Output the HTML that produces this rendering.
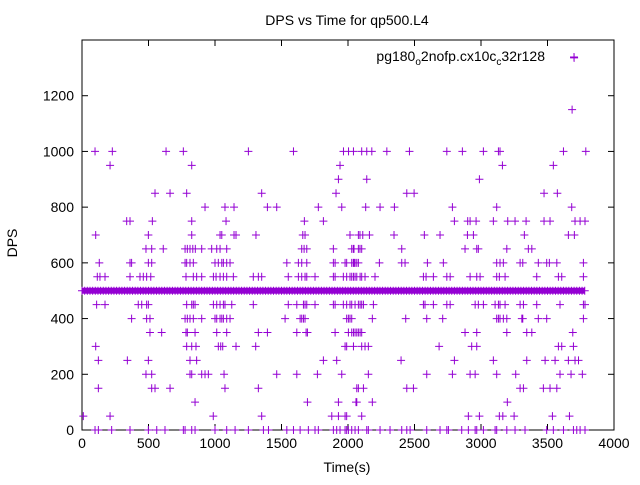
<!DOCTYPE html>
<html><head><meta charset="utf-8"><style>
body{margin:0;background:#fff;}
svg text{font-family:"Liberation Sans",sans-serif;fill:#000;}
</style></head><body>
<svg id="chart" width="640" height="480" xmlns="http://www.w3.org/2000/svg">
<rect width="640" height="480" fill="#fff"/>
<text x="347" y="25" font-size="14" text-anchor="middle">DPS vs Time for qp500.L4</text>
<text transform="translate(17,243) rotate(-90)" font-size="14" text-anchor="middle">DPS</text>
<text x="347" y="472" font-size="14" text-anchor="middle">Time(s)</text>
<g id="axes"></g>
<g id="marks"></g>
<g>
<text x="545" y="61" font-size="14" text-anchor="end">pg180<tspan font-size="10" dy="4">o</tspan><tspan dy="-4">2nofp.cx10c</tspan><tspan font-size="10" dy="4">c</tspan><tspan dy="-4">32r128</tspan></text>
<g stroke="#9400d3" stroke-width="1"><line x1="570" y1="57" x2="578" y2="57"/><line x1="574" y1="53" x2="574" y2="61"/></g>
</g>
</svg>
<script>
const xTicks=[0,500,1000,1500,2000,2500,3000,3500,4000];
const yTicks=[0,200,400,600,800,1000,1200];
const levels=[1336,1150,1000,950,900,850,800,750,700,650,600,550,450,400,350,300,250,200,150,100,50,0];
const times1336=[3700];
const times1150=[3685];
const times1000=[98,228,632,762,1251,1590,1966,2004,2041,2103,2141,2179,2292,2462,2743,2860,3018,3131,3143,3620,3788];
const times950=[211,825,1940,3161,3544];
const times900=[1928,2141,2988];
const times850=[549,662,787,1351,1910,2442,2497,3474,3574];
const times800=[925,1075,1143,1394,1464,1777,1953,2133,2241,2349,2785,3118,3682];
const times750=[336,361,529,825,1083,1672,1815,2800,2900,2918,2963,3093,3201,3256,3339,3474,3519,3707,3745,3782];
const times700=[103,499,825,1038,1051,1143,1158,1308,1660,1677,2015,2078,2090,2111,2161,2346,2574,2692,2898,2943,3326,3657,3702];
const times650=[481,524,611,775,792,812,833,852,900,975,1013,1038,1088,1652,1670,1690,1890,2040,2078,2028,2045,2090,2103,2404,2880,2968,2980,3194,3356,3382];
const times600=[130,361,373,499,524,775,787,812,837,1000,1025,1051,1063,1088,1113,1540,1627,1652,1690,1890,1903,1990,2028,2045,2066,1978,2040,2053,2078,2236,2404,2429,2597,2717,3118,3143,3168,3294,3314,3431,3494,3514,3570,3770];
const times550=[115,135,173,361,436,461,486,517,782,837,862,900,988,1008,1038,1063,1088,1138,1288,1326,1351,1551,1627,1652,1677,1690,1752,1890,1903,1990,2015,2041,2066,2091,1965,2028,2053,2103,2128,2203,2567,2587,2642,2743,2768,2918,2968,2993,3118,3138,3181,3419,3582,3607,3770];
const times450=[110,173,423,449,486,499,787,825,837,850,988,1013,1038,1063,1075,1126,1288,1551,1615,1665,1677,1690,1752,1890,1903,1990,2028,2053,2078,1965,2015,2091,2103,2116,2191,2567,2579,2642,2743,2768,2956,2980,3018,3106,3131,3143,3181,3294,3319,3419,3594,3770,3782];
const times400=[373,486,511,775,792,812,837,900,1000,1013,1038,1051,1063,1088,1113,1527,1640,1652,1665,1677,1990,2015,2028,2003,2183,2434,2592,2712,3118,3131,3143,3168,3194,3307,3314,3431,3494,3770];
const times350=[511,599,782,792,850,1013,1088,1326,1394,1615,1685,1695,1903,2003,2041,2066,2028,2053,2078,2091,2103,2880,2968,3194,3344,3382,3690];
const times300=[103,787,825,857,1025,1043,1058,1158,1306,1990,2041,1978,2103,2128,2153,2685,2930,2968,3582,3607,3695];
const times250=[123,341,499,812,862,1815,1915,2399,2800,3093,3344,3482,3557,3657,3707,3733];
const times200=[481,524,812,825,900,925,950,1068,1464,1615,1770,1953,2153,2592,2785,2918,2956,3118,3261,3594,3677,3762];
const times150=[123,524,549,662,1075,1326,2078,2066,2116,2442,2492,3294,3319,3469,3519,3570];
const times100=[850,1695,1928,2066,2060,2183,3198];
const times50=[10,211,987,1351,1878,1928,1990,1978,2103,2905,2988,3138,3164,3249,3537,3665];
const times0=[98,123,223,361,499,562,624,762,775,825,850,1000,1088,1151,1251,1364,1402,1540,1590,1640,1702,1752,1777,1890,1915,1940,1978,2003,2028,2053,1990,2078,2141,2153,2241,2316,2404,2442,2467,2592,2692,2743,2755,2855,2905,2956,2968,3018,3106,3118,3194,3256,3331,3494,3544,3620,3695,3720,3745,3782];
const timesByLevel=[times1336,times1150,times1000,times950,times900,times850,times800,times750,times700,times650,times600,times550,times450,times400,times350,times300,times250,times200,times150,times100,times50,times0];
const bandLevel=500;
const bandTimes=[0,20,40,60,80,100,120,140,160,180,200,220,240,260,280,300,320,340,360,380,400,420,440,460,480,500,520,540,560,580,600,620,640,660,680,700,720,740,760,780,800,820,840,860,880,900,920,940,960,980,1000,1020,1040,1060,1080,1100,1120,1140,1160,1180,1200,1220,1240,1260,1280,1300,1320,1340,1360,1380,1400,1420,1440,1460,1480,1500,1520,1540,1560,1580,1600,1620,1640,1660,1680,1700,1720,1740,1760,1780,1800,1820,1840,1860,1880,1900,1920,1940,1960,1980,2000,2020,2040,2060,2080,2100,2120,2140,2160,2180,2200,2220,2240,2260,2280,2300,2320,2340,2360,2380,2400,2420,2440,2460,2480,2500,2520,2540,2560,2580,2600,2620,2640,2660,2680,2700,2720,2740,2760,2780,2800,2820,2840,2860,2880,2900,2920,2940,2960,2980,3000,3020,3040,3060,3080,3100,3120,3140,3160,3180,3200,3220,3240,3260,3280,3300,3320,3340,3360,3380,3400,3420,3440,3460,3480,3500,3520,3540,3560,3580,3600,3620,3640,3660,3680,3700,3720,3740,3760,3780];

const L=82,R=614,T=40,B=430;
const xMax=4000,yMax=1400;
function sx(v){return L+(R-L)*v/xMax;}
function sy(v){return B-(B-T)*v/yMax;}
const NS="http://www.w3.org/2000/svg";
function mk(tag,attrs,parent){const e=document.createElementNS(NS,tag);for(const k in attrs)e.setAttribute(k,attrs[k]);parent.appendChild(e);return e;}
const axes=document.getElementById('axes');
const frame=mk('rect',{x:L,y:T,width:R-L,height:B-T,fill:'none',stroke:'#000','stroke-width':1},axes);


xTicks.forEach(v=>{
  const x=sx(v);
  mk('line',{x1:x,y1:B,x2:x,y2:B-6,stroke:'#000'},axes);
  mk('line',{x1:x,y1:T,x2:x,y2:T+6,stroke:'#000'},axes);
  const t=mk('text',{x:x,y:B+18,'font-size':14,'text-anchor':'middle'},axes);
  t.textContent=v;
  
  
});
yTicks.forEach(v=>{
  const y=sy(v);
  mk('line',{x1:L,y1:y,x2:L+6,y2:y,stroke:'#000'},axes);
  mk('line',{x1:R,y1:y,x2:R-6,y2:y,stroke:'#000'},axes);
  const t=mk('text',{x:L-8,y:y+5,'font-size':14,'text-anchor':'end'},axes);
  t.textContent=v;
  
  
});
const marks=document.getElementById('marks');
let d='';
function plus(t,v){const x=sx(t),y=sy(v);d+='M'+(x-4)+' '+y+'H'+(x+4)+'M'+x+' '+(y-4)+'V'+(y+4);}
bandTimes.forEach(t=>plus(t,bandLevel));
levels.forEach((lv,i)=>timesByLevel[i].forEach(t=>plus(t,lv)));
const p=mk('path',{d:d,stroke:'#9400d3','stroke-width':1,fill:'none'},marks);


const band=mk('rect',{x:sx(bandTimes[0]),y:sy(bandLevel)-3,width:sx(bandTimes[bandTimes.length-1])-sx(bandTimes[0]),height:6,fill:'#9400d3'},marks);


</script>
</body></html>
